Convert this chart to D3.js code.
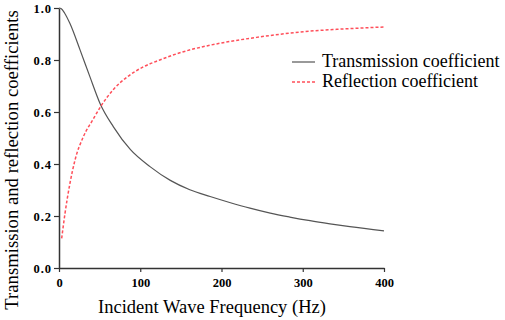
<!DOCTYPE html>
<html>
<head>
<meta charset="utf-8">
<script src="https://cdn.jsdelivr.net/npm/d3@7"></script>
<style>
  body { margin: 0; background: #fff; }
</style>
</head>
<body>
<div id="chart"></div>
<script>
// values
const transFreq = [0, 2.5, 7, 13.5, 26, 38, 50.5, 67, 88, 112, 137, 161, 186, 210, 235, 260, 284, 309, 333.5, 358, 400];
const transVals = [1.0, 0.998, 0.98, 0.94, 0.838, 0.736, 0.633, 0.543, 0.455, 0.39, 0.337, 0.301, 0.275, 0.252, 0.23, 0.211, 0.196, 0.182, 0.17, 0.159, 0.143];

const reflFreq = [3.3, 7.4, 13.5, 19.7, 30, 42, 51.7, 67, 84, 104, 124, 145, 165, 186, 206, 243, 272, 301, 342, 400];
const reflVals = [0.114, 0.21, 0.326, 0.415, 0.505, 0.572, 0.623, 0.687, 0.735, 0.774, 0.80, 0.824, 0.842, 0.857, 0.869, 0.887, 0.899, 0.909, 0.918, 0.927];

const xTicks = [0, 100, 200, 300, 400];
const yTicks = [0, 0.2, 0.4, 0.6, 0.8, 1.0];
const seriesNames = ["Transmission coefficient", "Reflection coefficient"];

const serif = "'Liberation Serif', 'Times New Roman', serif";
const width = 505, height = 320,
      margin = ({ top: 8, right: 121, bottom: 52, left: 59 });

const svg = d3.select("#chart")
    .append("svg")
    .attr("width", width)
    .attr("height", height);

const x = d3.scaleLinear()
    .domain([0, 400])
    .range([margin.left, width - margin.right]);

const y = d3.scaleLinear()
    .domain([0, 1])
    .range([height - margin.bottom, margin.top]);

// x axis
const gx = svg.append("g")
    .attr("transform", `translate(0,${height - margin.bottom})`)
    .call(d3.axisBottom(x).tickValues(xTicks).tickSize(4).tickSizeOuter(0).tickFormat(d3.format("d")));

// y axis
const gy = svg.append("g")
    .attr("transform", `translate(${margin.left},0)`)
    .call(d3.axisLeft(y).tickValues(yTicks).tickSize(5).tickSizeOuter(0).tickFormat(d3.format(".1f")));

[gx, gy].forEach(g => {
    g.attr("font-family", null);
    g.select(".domain").attr("stroke", "#333").attr("stroke-width", 1.5);
    g.selectAll(".tick line").attr("stroke", "#333").attr("stroke-width", 1.2);
    g.selectAll(".tick text")
        .attr("fill", "#000")
        .style("font-family", serif)
        .style("font-weight", "bold")
        .style("font-size", "12.5px");
});
gx.selectAll(".tick text").attr("dy", "0.95em");
gy.selectAll(".tick text").attr("x", -7).style("letter-spacing", "1px");

// axis titles
svg.append("text")
    .attr("x", 212)
    .attr("y", 313)
    .attr("text-anchor", "middle")
    .style("font-family", serif)
    .style("font-size", "18.5px")
    .attr("fill", "#000")
    .text("Incident Wave Frequency (Hz)");

svg.append("text")
    .attr("transform", "translate(18,160) rotate(-90)")
    .attr("text-anchor", "middle")
    .style("font-family", serif)
    .style("font-size", "18.7px")
    .attr("fill", "#000")
    .text("Transmission and reflection coefficients");

// curves
const line = d3.line()
    .x(d => x(d[0]))
    .y(d => y(d[1]))
    .curve(d3.curveMonotoneX);

svg.append("path")
    .datum(d3.zip(transFreq, transVals))
    .attr("fill", "none")
    .attr("stroke", "#555")
    .attr("stroke-width", 1.2)
    .attr("d", line);

svg.append("path")
    .datum(d3.zip(reflFreq, reflVals))
    .attr("fill", "none")
    .attr("stroke", "#ff4f5a")
    .attr("stroke-width", 1.5)
    .attr("stroke-dasharray", "3,2")
    .attr("d", line);

// legend
const legend = svg.append("g").attr("transform", "translate(292,62)");
legend.selectAll("line")
    .data(seriesNames)
    .join("line")
    .attr("x1", 0).attr("x2", 23)
    .attr("y1", (d, i) => i * 20).attr("y2", (d, i) => i * 20)
    .attr("stroke", (d, i) => i === 0 ? "#555" : "#ff4f5a")
    .attr("stroke-width", (d, i) => i === 0 ? 1.2 : 1.5)
    .attr("stroke-dasharray", (d, i) => i === 0 ? null : "3,2");
legend.selectAll("text")
    .data(seriesNames)
    .join("text")
    .attr("x", 30)
    .attr("y", (d, i) => i * 20 + 5)
    .style("font-family", serif)
    .style("font-size", "18px")
    .attr("fill", "#000")
    .text(d => d);
</script>
</body>
</html>
